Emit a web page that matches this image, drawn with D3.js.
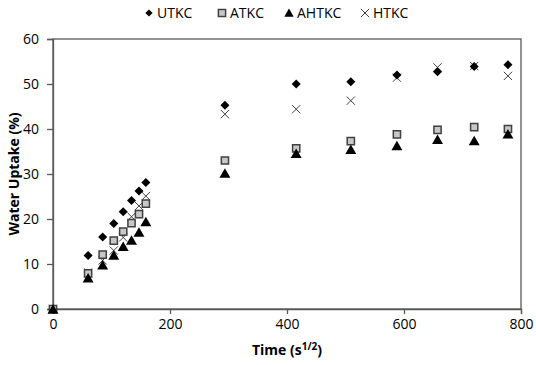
<!DOCTYPE html>
<html>
<head>
<meta charset="utf-8">
<script src="https://cdn.jsdelivr.net/npm/d3@7"></script>
<style>
  body { margin: 0; background: #fff; }
  text { font-family: "Open Sans", "Noto Sans", sans-serif; fill: #000; }
</style>
</head>
<body>
<div class="chart"></div>
<script>
// time in s^1/2 (0, 1..7 h, 24, 48, 72, 96, 120, 144, 168 h)
var times = [0, 60, 84.9, 103.9, 120, 134.2, 147, 158.7, 293.9, 415.7, 509.1, 587.9, 657.3, 720, 777.7];
var utkc  = [0, 11.9, 16.0, 19.0, 21.6, 24.1, 26.2, 28.1, 45.3, 50.0, 50.5, 52.0, 52.7, 53.9, 54.3];
var atkc  = [0, 7.9, 12.1, 15.2, 17.2, 19.1, 21.1, 23.4, 33.0, 35.7, 37.3, 38.8, 39.8, 40.4, 40.0];
var ahtkc = [0, 6.9, 9.8, 12.0, 13.9, 15.3, 17.1, 19.4, 30.2, 34.6, 35.5, 36.3, 37.7, 37.4, 38.9];
var htkc  = [0, 8.1, 10.8, 13.0, 15.9, 20.5, 22.9, 25.1, 43.3, 44.4, 46.3, 51.4, 53.7, 54.0, 51.8];
var seriesNames = ["UTKC", "ATKC", "AHTKC", "HTKC"];
var xTicks = [0, 200, 400, 600, 800];
var yTicks = [0, 10, 20, 30, 40, 50, 60];

var svgWidth = 536;
var svgHeight = 365;
var margin = { top: 39, right: 15, bottom: 56, left: 53 };
var width = svgWidth - margin.left - margin.right;
var height = svgHeight - margin.top - margin.bottom;
var axisColor = "#595959";

var svg = d3.select(".chart")
  .append("svg")
  .attr("width", svgWidth)
  .attr("height", svgHeight);

var chartGroup = svg.append("g")
  .attr("transform", `translate(${margin.left}, ${margin.top})`);

var x = d3.scaleLinear().domain([0, 800]).range([0, width]);
var y = d3.scaleLinear().domain([0, 60]).range([height, 0]);

// plot border (top + right)
chartGroup.append("rect")
  .attr("width", width)
  .attr("height", height)
  .attr("fill", "none")
  .attr("stroke", axisColor)
  .attr("stroke-width", 1.3);

var xAxis = d3.axisBottom(x).tickValues(xTicks).tickSize(5).tickPadding(5);
var yAxis = d3.axisLeft(y).tickValues(yTicks).tickSize(6).tickPadding(8);

var gx = chartGroup.append("g")
  .attr("transform", `translate(0, ${height})`)
  .call(xAxis);
var gy = chartGroup.append("g").call(yAxis);

[gx, gy].forEach(function(g) {
  g.selectAll("path, line").attr("stroke", axisColor).attr("stroke-width", 1.3);
  g.selectAll("text").style("font-size", "14px").attr("fill", "#000");
});

var series = [
  { name: seriesNames[0], values: utkc },
  { name: seriesNames[1], values: atkc },
  { name: seriesNames[2], values: ahtkc },
  { name: seriesNames[3], values: htkc }
];

var symbols = [
  d3.symbol().type(d3.symbolDiamond2).size(52),
  d3.symbol().type(d3.symbolSquare).size(52),
  d3.symbol().type(d3.symbolTriangle).size(52),
  d3.symbol().type(d3.symbolTimes).size(46)
];

function styleMarker(sel, i) {
  if (i === 1) {
    sel.attr("fill", "#c8c8c8").attr("stroke", "#404040").attr("stroke-width", 1.5);
  } else if (i === 3) {
    sel.attr("fill", "none").attr("stroke", "#404040").attr("stroke-width", 1);
  } else {
    sel.attr("fill", "#000");
  }
}

// draw order so squares sit over the crosses like the original
[3, 0, 1, 2].forEach(function(i) {
  var s = series[i];
  var pts = chartGroup.append("g")
    .selectAll("path")
    .data(times.map(function(t, j) { return [t, s.values[j]]; }))
    .enter()
    .append("path")
    .attr("d", symbols[i])
    .attr("transform", function(d) {
      var dy = i === 2 ? 1.5 : 0;
      return `translate(${x(d[0])}, ${y(d[1]) + dy})`;
    });
  styleMarker(pts, i);
});

// legend
var legendX = [149, 222, 289, 365];
var legend = svg.append("g");
series.forEach(function(s, i) {
  var item = legend.append("g").attr("transform", `translate(${legendX[i]}, 13)`);
  var m = item.append("path").attr("d", symbols[i]);
  styleMarker(m, i);
  if (i === 0) m.attr("transform", "scale(0.8)");
  if (i === 2) m.attr("transform", "translate(0,1) scale(0.85)");
  item.append("text")
    .attr("x", 8)
    .attr("dy", "0.35em")
    .style("font-size", "14px")
    .text(s.name);
});

// axis labels
chartGroup.append("text")
  .attr("transform", "rotate(-90)")
  .attr("x", 0 - (height / 2))
  .attr("y", 0 - margin.left + 14)
  .attr("text-anchor", "middle")
  .attr("dy", "0.35em")
  .style("font-size", "14px")
  .style("font-weight", "bold")
  .text("Water Uptake (%)");

var xl = chartGroup.append("text")
  .attr("transform", `translate(${width / 2}, ${height + 46})`)
  .attr("text-anchor", "middle")
  .style("font-size", "14px")
  .style("font-weight", "bold");
xl.append("tspan").text("Time (s");
xl.append("tspan").attr("dy", -5).style("font-size", "10px").text("1/2");
xl.append("tspan").attr("dy", 5).text(")");
</script>
</body>
</html>
